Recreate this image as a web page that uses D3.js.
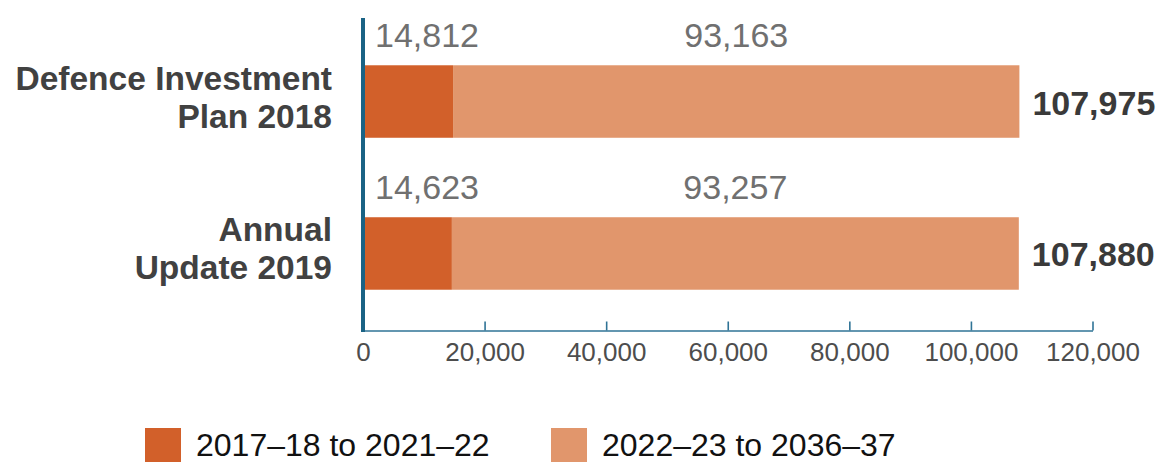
<!DOCTYPE html>
<html>
<head>
<meta charset="utf-8">
<script src="https://cdn.jsdelivr.net/npm/d3@7"></script>
<style>
  html, body { margin: 0; padding: 0; background: #fff; }
  svg { display: block; font-family: "Liberation Sans", Arial, Helvetica, sans-serif; }
</style>
</head>
<body>
<svg id="chart" width="1161" height="462"></svg>
<script>
const categories = [["Defence Investment", "Plan 2018"], ["Annual", "Update 2019"]];
const categoryKeys = ["Defence Investment Plan 2018", "Annual Update 2019"];
const seriesNames = ["2017–18 to 2021–22", "2022–23 to 2036–37"];
const nearTerm = [14812, 14623];
const longTerm = [93163, 93257];
const totals = [107975, 107880];
const xTicks = [0, 20000, 40000, 60000, 80000, 100000, 120000];
const colors = ["#D2602A", "#E1966C"];

const svg = d3.select("#chart");
const fmt = d3.format(",");

const x = d3.scaleLinear().domain([0, 120000]).range([363, 1092.5]);
const y = d3.scaleBand().domain(categoryKeys).range([25, 330])
  .paddingInner(0.523).paddingOuter(0.265);

const data = categoryKeys.map((k, i) => ({ key: k, lines: categories[i], a: nearTerm[i], b: longTerm[i], total: totals[i] }));
const stack = d3.stack().keys(["a", "b"])(data);

// bars
svg.append("g").selectAll("g").data(stack).join("g")
  .attr("fill", (d, i) => colors[i])
  .selectAll("rect").data(d => d).join("rect")
  .attr("x", d => x(d[0]))
  .attr("width", d => x(d[1]) - x(d[0]))
  .attr("y", d => y(d.data.key))
  .attr("height", y.bandwidth());

// x axis
const axisG = svg.append("g").attr("transform", "translate(0,330.5)")
  .call(d3.axisBottom(x).tickValues(xTicks).tickFormat(fmt).tickSizeInner(-9).tickSizeOuter(0).tickPadding(20));
axisG.select(".domain").attr("stroke", "#2F7396").attr("stroke-width", 1.6);
axisG.selectAll(".tick line").attr("stroke", "#2F7396").attr("stroke-width", 1.6);
axisG.selectAll(".tick text").attr("fill", "#4d4d4d").attr("font-size", 26)
  .attr("font-family", "Liberation Sans, Arial, sans-serif").attr("dy", "0.71em").attr("y", 12);

// vertical axis line
svg.append("line").attr("x1", 363).attr("x2", 363).attr("y1", 18).attr("y2", 332)
  .attr("stroke", "#1A6385").attr("stroke-width", 4);

// category labels
const catG = svg.append("g");
data.forEach(d => {
  const cy = y(d.key) + y.bandwidth() / 2;
  const t = catG.append("text").attr("x", 332).attr("text-anchor", "end")
    .attr("font-weight", "bold").attr("font-size", 33.5).attr("fill", "#414141");
  t.append("tspan").attr("x", 332).attr("y", cy - 12).text(d.lines[0]);
  t.append("tspan").attr("x", 332).attr("y", cy + 26).text(d.lines[1]);
});

// segment value labels
data.forEach(d => {
  const top = y(d.key);
  svg.append("text").attr("x", x(0) + 12).attr("y", top - 18)
    .attr("font-size", 34).attr("fill", "#707070").text(fmt(d.a));
  svg.append("text").attr("x", (x(d.a) + x(d.a + d.b)) / 2).attr("y", top - 18)
    .attr("text-anchor", "middle").attr("font-size", 34).attr("fill", "#707070").text(fmt(d.b));
  svg.append("text").attr("x", x(d.total) + 13).attr("y", top + y.bandwidth() / 2 + 13)
    .attr("font-weight", "bold").attr("font-size", 34).attr("fill", "#3a3a3a").text(fmt(d.total));
});

// legend
const legendX = [145, 551];
const leg = svg.append("g");
seriesNames.forEach((s, i) => {
  leg.append("rect").attr("x", legendX[i]).attr("y", 428).attr("width", 36).attr("height", 36).attr("fill", colors[i]);
  leg.append("text").attr("x", legendX[i] + 51).attr("y", 456).attr("font-size", 32).attr("fill", "#111").text(s);
});
</script>
</body>
</html>
